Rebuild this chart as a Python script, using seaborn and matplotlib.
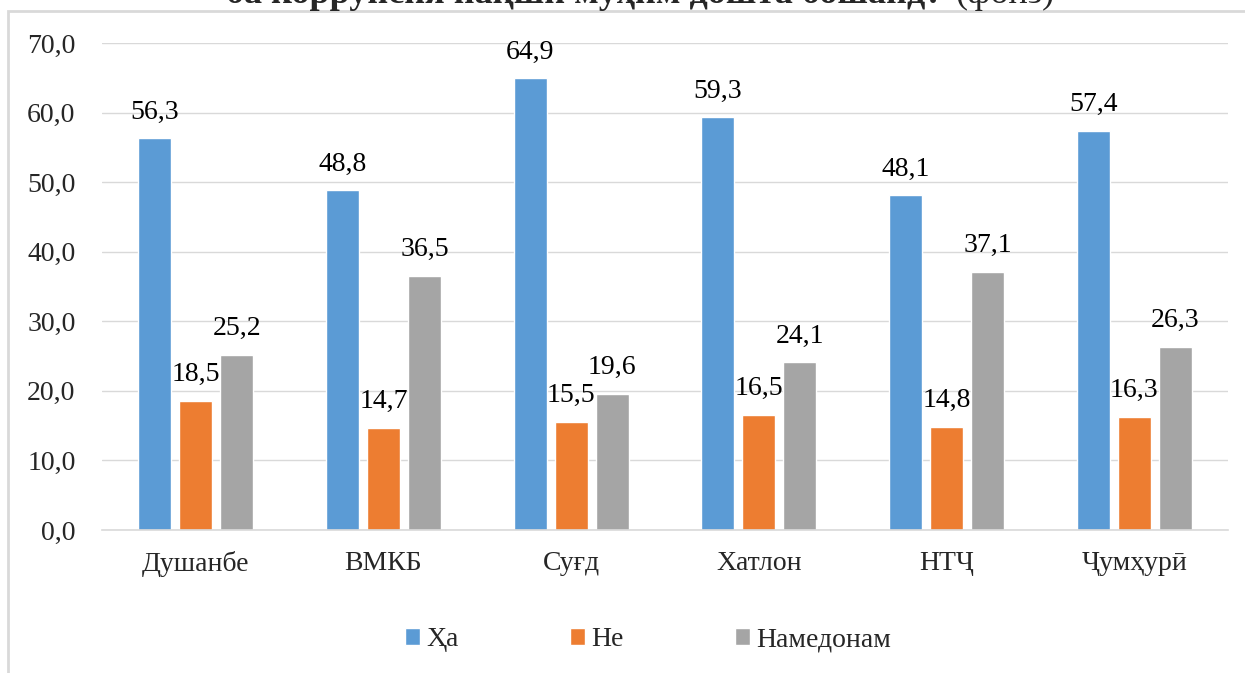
import pandas as pd
import seaborn as sns
import matplotlib.pyplot as plt
from matplotlib.patches import Rectangle

# Маълумот аз расм
regions = ["Душанбе", "ВМКБ", "Суғд", "Хатлон", "НТҶ", "Ҷумҳурӣ"]
answers = ["Ҳа", "Не", "Намедонам"]
ha_vals = [56.3, 48.8, 64.9, 59.3, 48.1, 57.4]
ne_vals = [18.5, 14.7, 15.5, 16.5, 14.8, 16.3]
namedonam_vals = [25.2, 36.5, 19.6, 24.1, 37.1, 26.3]
yticks = [0, 10, 20, 30, 40, 50, 60, 70]
colors = ["#5B9BD5", "#ED7D31", "#A5A5A5"]

title_bold = "ба коррупсия нақши муҳим дошта бошанд?"
title_plain = "(фоиз)"

df = pd.DataFrame({
    "region": regions * 3,
    "answer": [answers[0]] * 6 + [answers[1]] * 6 + [answers[2]] * 6,
    "value": ha_vals + ne_vals + namedonam_vals,
})

sns.set_style("white")
plt.rcParams["font.family"] = ["Liberation Serif", "DejaVu Serif"]

fig = plt.figure(figsize=(12.45, 6.73), dpi=100)
ax = fig.add_axes([102 / 1245, 1 - 530 / 673, (1228 - 102) / 1245, (530 - 43) / 673])

sns.barplot(data=df, x="region", y="value", hue="answer", palette=colors,
            width=0.656, gap=0.2, ax=ax, saturation=1, errorbar=None)

for cont in ax.containers:
    labels = [f"{b.get_height():.1f}".replace(".", ",") for b in cont]
    ax.bar_label(cont, labels=labels, padding=10, fontsize=20, color="#000000")

ax.set_ylim(0, 70)
ax.set_yticks(yticks)
ax.set_yticklabels([f"{t:.1f}".replace(".", ",") for t in yticks])
ax.set_xlabel("")
ax.set_ylabel("")
ax.tick_params(axis="y", length=0, pad=19, labelsize=20)
ax.tick_params(axis="x", length=0, pad=15, labelsize=20)
ax.yaxis.grid(True, color="#D9D9D9", linewidth=1)
ax.set_axisbelow(True)
for s in ["top", "right", "left"]:
    ax.spines[s].set_visible(False)
ax.spines["bottom"].set_color("#D9D9D9")
ax.spines["bottom"].set_linewidth(1.2)

ax.legend(loc="center", bbox_to_anchor=(648 / 1245, 1 - 640 / 673), bbox_transform=fig.transFigure,
          ncol=3, frameon=False, fontsize=20, handlelength=0.54, handleheight=0.54,
          handletextpad=0.22, columnspacing=4.0)

# рамкаи диаграмма
fig.add_artist(Rectangle((8 / 1245, -0.2), 1.3, 1.2 - 11 / 673, transform=fig.transFigure,
                         fill=False, edgecolor="#D9D9D9", linewidth=2))

# сарлавҳа (қисман бурида)
fig.text(943 / 1245, 1 - 3 / 673, title_bold, ha="right", va="baseline",
         fontsize=26, fontweight="bold")
fig.text(955 / 1245, 1 - 3 / 673, title_plain, ha="left", va="baseline", fontsize=26)

fig.savefig("out.png", dpi=100)
